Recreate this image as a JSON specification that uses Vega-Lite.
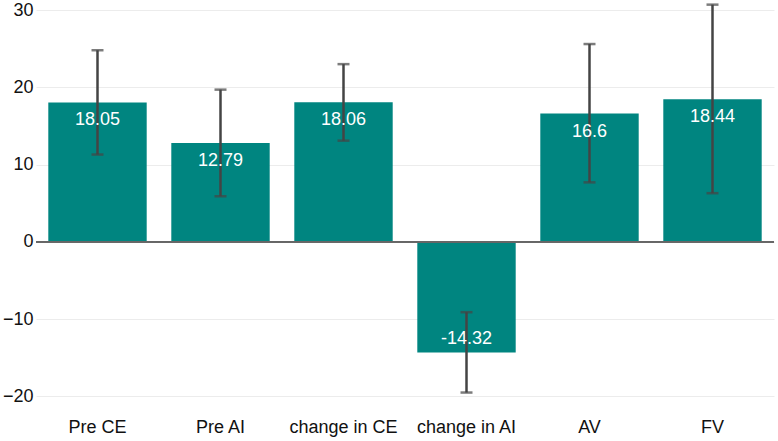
{
  "$schema": "https://vega.github.io/schema/vega-lite/v6.json",
  "width": 738,
  "height": 408,
  "autosize": {"type": "none"},
  "padding": {"left": 36, "top": 0, "right": 4, "bottom": 33},
  "config": {
    "font": "Liberation Sans",
    "view": {"stroke": null}
  },
  "data": {
    "values": [
      {"cat": "Pre CE", "value": 18.05, "lo": 11.3, "hi": 24.8},
      {"cat": "Pre AI", "value": 12.79, "lo": 5.9, "hi": 19.7},
      {"cat": "change in CE", "value": 18.06, "lo": 13.1, "hi": 23.0},
      {"cat": "change in AI", "value": -14.32, "lo": -19.5, "hi": -9.1},
      {"cat": "AV", "value": 16.6, "lo": 7.7, "hi": 25.6},
      {"cat": "FV", "value": 18.44, "lo": 6.3, "hi": 30.7}
    ]
  },
  "encoding": {
    "x": {
      "field": "cat",
      "type": "nominal",
      "sort": null,
      "scale": {"paddingInner": 0.2, "paddingOuter": 0.1},
      "axis": {"title": null, "labelAngle": 0, "domain": false, "ticks": false, "labelFontSize": 18, "labelColor": "#111", "labelPadding": 10}
    }
  },
  "layer": [
    {
      "mark": {"type": "bar", "color": "#008580"},
      "encoding": {
        "y": {
          "field": "value",
          "type": "quantitative",
          "scale": {"domain": [-21.5, 31.3], "nice": false, "zero": false},
          "axis": {"title": null, "values": [-20, -10, 0, 10, 20, 30], "domain": false, "ticks": false, "labelFontSize": 18, "labelColor": "#111", "labelPadding": 3, "gridColor": "#ececec", "gridWidth": 1}
        }
      }
    },
    {
      "mark": {"type": "rule", "color": "#666", "strokeWidth": 1.5},
      "encoding": {"y": {"datum": 0, "type": "quantitative"}, "x": {}}
    },
    {
      "mark": {"type": "rule", "color": "#444", "strokeWidth": 2.5},
      "encoding": {"y": {"field": "lo", "type": "quantitative"}, "y2": {"field": "hi"}}
    },
    {
      "mark": {"type": "tick", "color": "#444", "thickness": 2.5, "size": 12, "orient": "horizontal"},
      "encoding": {"y": {"field": "lo", "type": "quantitative"}}
    },
    {
      "mark": {"type": "tick", "color": "#444", "thickness": 2.5, "size": 12, "orient": "horizontal"},
      "encoding": {"y": {"field": "hi", "type": "quantitative"}}
    },
    {
      "transform": [{"filter": "datum.value >= 0"}],
      "mark": {"type": "text", "color": "white", "fontSize": 18, "baseline": "top", "dy": 9},
      "encoding": {"y": {"field": "value", "type": "quantitative"}, "text": {"field": "value", "type": "nominal"}}
    },
    {
      "transform": [{"filter": "datum.value < 0"}],
      "mark": {"type": "text", "color": "white", "fontSize": 18, "baseline": "bottom", "dy": -5},
      "encoding": {"y": {"field": "value", "type": "quantitative"}, "text": {"field": "value", "type": "nominal"}}
    }
  ]
}
